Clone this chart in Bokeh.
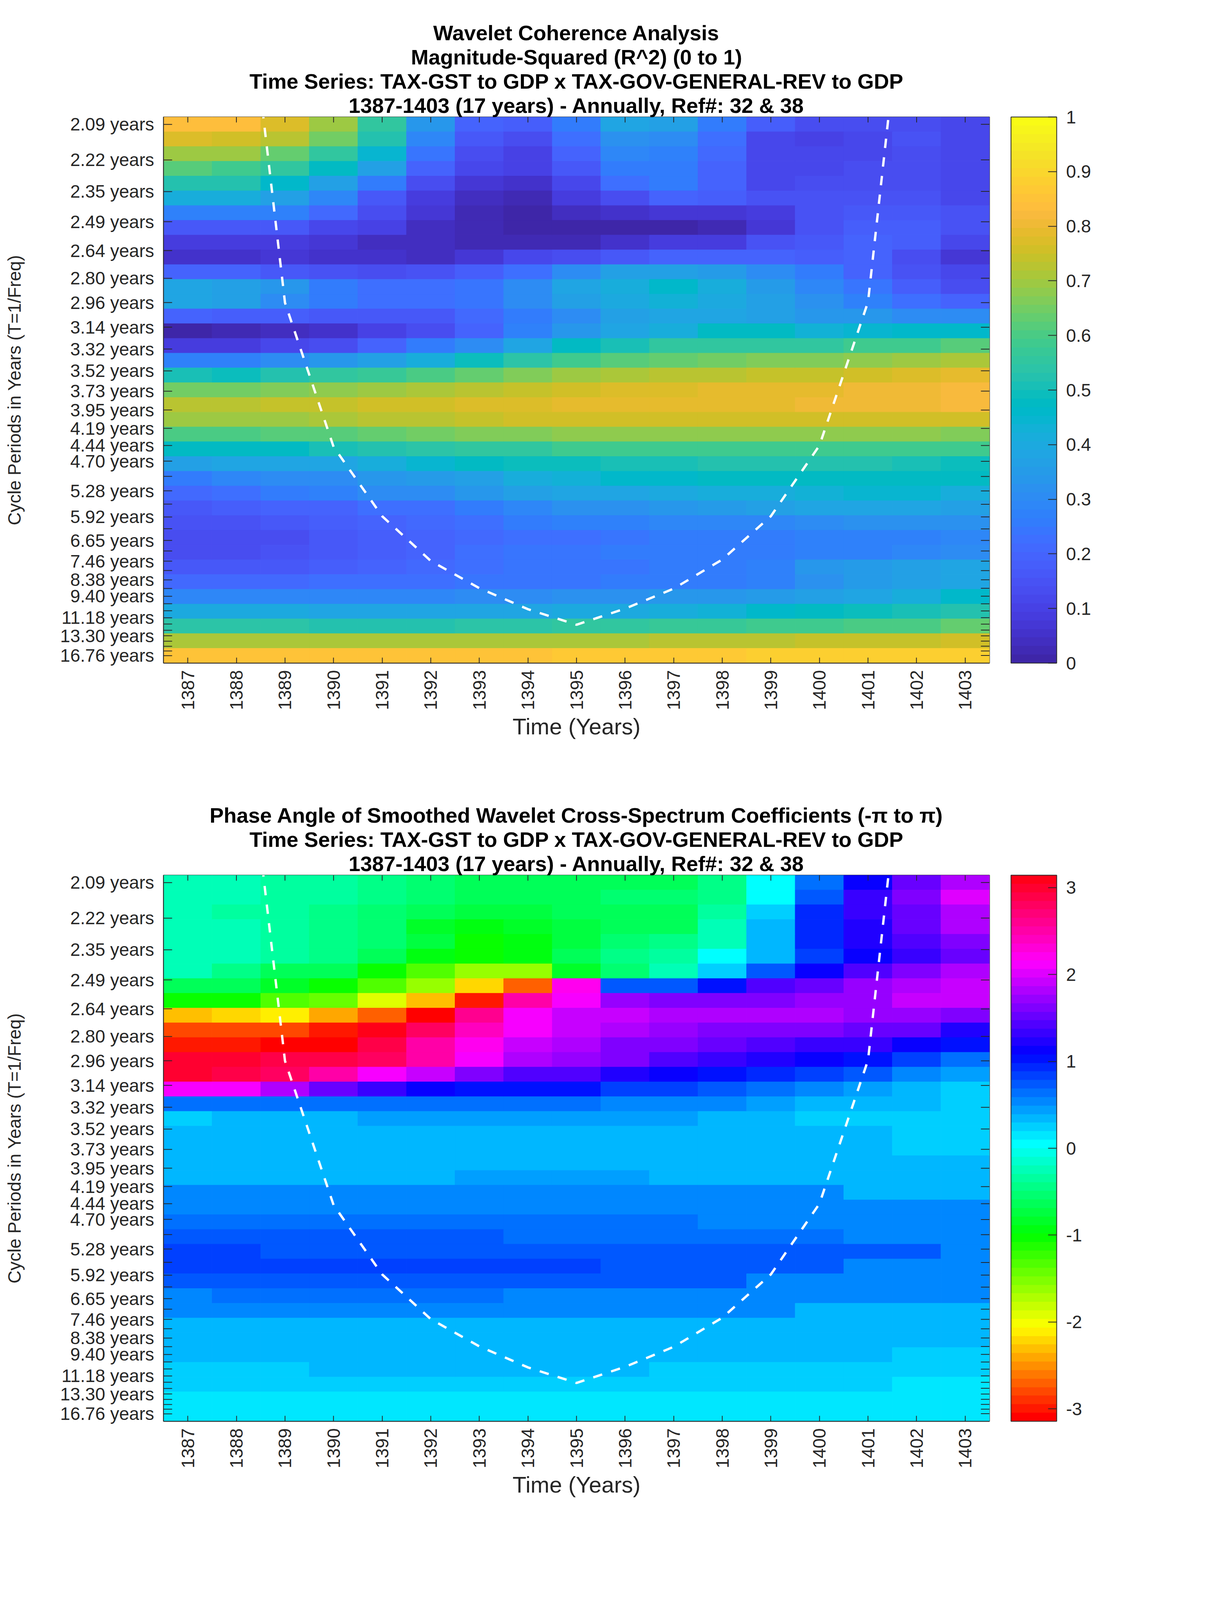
import colorsys
import math
from bokeh.embed import file_html
from bokeh.layouts import column
from bokeh.models import ColorBar, ColumnDataSource, FixedTicker, LinearColorMapper, NumeralTickFormatter, Range1d, Title
from bokeh.plotting import figure
from bokeh.resources import INLINE

YEARS = list(range(1387, 1404))
LABELLED_PERIODS = [2.09, 2.22, 2.35, 2.49, 2.64, 2.80, 2.96, 3.14, 3.32, 3.52, 3.73, 3.95, 4.19, 4.44, 4.70, 5.28,
                    5.92, 6.65, 7.46, 8.38, 9.40, 11.18, 13.30, 16.76]
UNLABELLED_PERIODS = [4.98, 5.59, 6.27, 7.04, 7.90, 8.88, 9.96, 10.55, 11.85, 12.55, 14.09, 14.93, 15.82]

COI_YEARS = list(range(1388, 1403))
COI_PERIODS = [1.50, 2.96, 4.46, 5.90, 7.45, 8.87, 10.40, 11.92, 10.35, 8.90, 7.39, 5.90, 4.44, 2.955, 1.46]

COHERENCE = [
    [.84, .83, .78, .70, .56, .33, .19, .18, .25, .38, .36, .26, .18, .13, .13, .13, .12],
    [.78, .76, .72, .65, .52, .29, .17, .13, .22, .32, .30, .22, .12, .105, .12, .145, .115],
    [.69, .69, .63, .56, .44, .24, .13, .105, .20, .29, .27, .21, .12, .11, .12, .14, .115],
    [.62, .59, .55, .47, .37, .20, .11, .095, .17, .26, .26, .20, .12, .12, .14, .14, .11],
    [.52, .52, .465, .36, .26, .13, .07, .06, .11, .22, .25, .20, .12, .125, .14, .14, .115],
    [.42, .42, .37, .29, .17, .08, .045, .03, .08, .14, .19, .185, .15, .145, .15, .15, .11],
    [.28, .28, .27, .21, .14, .07, .03, .01, .035, .06, .075, .075, .08, .145, .165, .17, .155],
    [.17, .17, .16, .12, .10, .045, .02, .01, .01, .01, .015, .025, .075, .15, .185, .18, .15],
    [.08, .08, .08, .07, .045, .035, .03, .03, .03, .05, .085, .09, .15, .17, .19, .175, .115],
    [.055, .055, .07, .055, .055, .04, .07, .11, .13, .165, .19, .20, .20, .175, .19, .125, .07],
    [.19, .19, .17, .15, .14, .15, .18, .23, .31, .36, .37, .35, .30, .25, .20, .15, .115],
    [.38, .37, .33, .26, .23, .23, .24, .31, .38, .42, .46, .41, .35, .29, .24, .18, .125],
    [.39, .36, .31, .26, .23, .23, .24, .30, .37, .40, .43, .40, .36, .32, .27, .22, .20],
    [.19, .185, .18, .17, .17, .165, .21, .25, .31, .36, .38, .385, .37, .34, .33, .31, .31],
    [.01, .025, .035, .055, .10, .14, .20, .27, .33, .385, .42, .47, .47, .43, .45, .46, .46],
    [.08, .08, .11, .13, .20, .26, .31, .39, .47, .50, .55, .56, .56, .56, .58, .59, .61],
    [.28, .28, .30, .33, .37, .41, .49, .54, .59, .62, .625, .645, .66, .665, .675, .69, .71],
    [.51, .49, .52, .55, .57, .60, .63, .66, .69, .71, .725, .725, .74, .74, .75, .77, .785],
    [.655, .655, .66, .675, .69, .705, .725, .74, .75, .77, .77, .785, .785, .785, .80, .80, .82],
    [.73, .73, .735, .745, .75, .765, .775, .775, .79, .79, .79, .79, .79, .80, .80, .80, .82],
    [.695, .695, .70, .705, .72, .725, .745, .75, .755, .755, .755, .755, .755, .755, .755, .755, .755],
    [.595, .605, .61, .62, .64, .65, .665, .67, .68, .68, .68, .68, .68, .68, .68, .68, .67],
    [.47, .475, .48, .50, .52, .54, .55, .56, .585, .585, .585, .585, .585, .585, .585, .585, .58],
    [.37, .375, .38, .39, .41, .44, .47, .49, .495, .505, .51, .525, .525, .525, .525, .515, .49],
    [.26, .29, .30, .31, .33, .35, .36, .41, .43, .465, .465, .47, .47, .475, .48, .48, .47],
    [.205, .23, .26, .28, .30, .31, .33, .37, .375, .39, .40, .41, .41, .43, .44, .44, .42],
    [.17, .18, .19, .20, .22, .23, .25, .29, .315, .325, .34, .35, .36, .38, .385, .385, .37],
    [.145, .145, .16, .175, .195, .215, .23, .25, .27, .27, .285, .285, .29, .31, .32, .32, .325],
    [.13, .14, .125, .16, .18, .19, .21, .22, .23, .24, .25, .255, .25, .27, .28, .28, .295],
    [.14, .14, .145, .16, .18, .20, .22, .235, .235, .25, .255, .26, .265, .27, .275, .295, .30],
    [.17, .17, .17, .175, .195, .21, .225, .24, .24, .245, .255, .26, .27, .33, .345, .365, .375],
    [.215, .215, .215, .22, .225, .23, .24, .24, .245, .25, .26, .265, .275, .315, .345, .37, .38],
    [.285, .285, .285, .285, .29, .295, .30, .305, .315, .32, .33, .34, .35, .365, .39, .41, .455],
    [.395, .395, .395, .39, .39, .39, .39, .39, .40, .405, .41, .43, .46, .475, .49, .515, .52],
    [.545, .545, .545, .53, .52, .52, .535, .54, .55, .56, .57, .57, .58, .585, .60, .60, .63],
    [.705, .705, .705, .705, .705, .705, .705, .705, .71, .71, .725, .725, .725, .745, .745, .745, .76],
    [.845, .845, .845, .845, .845, .845, .845, .845, .86, .86, .86, .86, .885, .885, .885, .885, .885],
]

PHASE = [
    [-.2, -.27, -.33, -.36, -.46, -.55, -.62, -.66, -.66, -.6, -.6, -.45, 0, .64, 1.12, 1.5, 1.85],
    [-.2, -.27, -.33, -.36, -.46, -.55, -.62, -.66, -.62, -.58, -.58, -.44, .06, .74, 1.33, 1.64, 1.98],
    [-.2, -.3, -.37, -.4, -.5, -.62, -.72, -.74, -.68, -.62, -.62, -.33, .2, .92, 1.3, 1.57, 1.85],
    [-.27, -.28, -.36, -.4, -.53, -.8, -.9, -.8, -.72, -.66, -.66, -.22, .3, .92, 1.27, 1.5, 1.77],
    [-.27, -.28, -.36, -.4, -.53, -.75, -1.03, -.9, -.75, -.55, -.48, -.27, .3, .92, 1.24, 1.38, 1.64],
    [-.27, -.28, -.37, -.42, -.6, -.9, -1.05, -.92, -.6, -.42, -.33, 0, .39, .85, 1.15, 1.35, 1.54],
    [-.27, -.4, -.6, -.65, -1.03, -1.3, -1.65, -1.6, -.8, -.5, -.22, .2, .78, 1.17, 1.47, 1.64, 1.77],
    [-.62, -.65, -.85, -1.03, -1.3, -1.65, -2.16, -2.73, 2.2, .7, .78, 1.05, 1.38, 1.55, 1.72, 1.85, 1.9],
    [-1.05, -1.05, -1.3, -1.47, -1.88, -2.26, -3.0, 2.55, 2.15, 1.75, 1.64, 1.62, 1.63, 1.75, 1.75, 1.9, 1.9],
    [-2.26, -2.16, -2.14, -2.36, -2.66, -3.13, 2.65, 2.1, 1.95, 1.88, 1.78, 1.78, 1.78, 1.78, 1.76, 1.76, 1.63],
    [-2.8, -2.8, -2.8, -2.96, 3.08, 2.8, 2.45, 2.1, 1.9, 1.78, 1.75, 1.65, 1.62, 1.6, 1.52, 1.52, 1.27],
    [-3.02, -3.02, -3.13, -3.13, 2.92, 2.55, 2.2, 1.93, 1.85, 1.64, 1.64, 1.53, 1.44, 1.3, 1.3, 1.1, 1.05],
    [3.03, 3.03, 2.93, 2.9, 2.75, 2.5, 2.1, 1.85, 1.7, 1.6, 1.47, 1.35, 1.27, 1.12, 1.03, .85, .64],
    [2.95, 2.85, 2.75, 2.55, 2.1, 1.9, 1.66, 1.4, 1.38, 1.27, 1.12, 1.04, .97, .85, .78, .58, .48],
    [2.1, 2.1, 1.85, 1.55, 1.33, 1.15, 1.05, 1.05, 1.03, .88, .8, .78, .68, .57, .48, .37, .27],
    [.6, .66, .66, .66, .66, .66, .66, .66, .66, .58, .58, .58, .48, .37, .37, .3, .2],
    [.29, .38, .38, .38, .46, .46, .46, .46, .46, .46, .46, .38, .38, .27, .27, .2, .2],
    [.3, .3, .3, .38, .38, .38, .38, .38, .38, .38, .38, .38, .3, .3, .3, .2, .2],
    [.3, .3, .3, .3, .38, .38, .38, .38, .38, .38, .38, .3, .3, .3, .3, .2, .2],
    [.3, .3, .3, .38, .38, .38, .38, .38, .38, .38, .38, .38, .38, .3, .3, .3, .3],
    [.38, .38, .38, .38, .38, .38, .46, .46, .46, .46, .38, .38, .38, .38, .38, .3, .3],
    [.5, .5, .5, .5, .5, .5, .5, .5, .5, .5, .5, .5, .5, .5, .38, .38, .38],
    [.58, .58, .58, .58, .58, .58, .58, .58, .58, .58, .58, .58, .52, .52, .52, .52, .52],
    [.68, .68, .68, .68, .68, .68, .68, .68, .68, .68, .68, .58, .58, .58, .58, .58, .58],
    [.75, .75, .75, .75, .75, .75, .75, .68, .68, .68, .68, .68, .68, .68, .58, .58, .58],
    [.88, .88, .78, .78, .78, .78, .78, .78, .78, .78, .7, .7, .7, .7, .7, .7, .58],
    [.88, .8, .8, .8, .8, .8, .8, .8, .8, .7, .7, .7, .7, .7, .58, .58, .58],
    [.78, .78, .78, .78, .78, .7, .7, .7, .7, .7, .7, .7, .58, .58, .58, .58, .5],
    [.58, .68, .68, .68, .68, .68, .68, .58, .58, .58, .58, .58, .58, .5, .5, .5, .5],
    [.5, .5, .5, .5, .58, .58, .5, .5, .5, .5, .5, .5, .5, .39, .39, .39, .39],
    [.39, .39, .39, .39, .39, .39, .39, .39, .39, .39, .39, .39, .39, .3, .3, .3, .3],
    [.3, .39, .39, .39, .39, .39, .39, .39, .39, .39, .39, .39, .3, .3, .3, .3, .3],
    [.3, .3, .3, .3, .3, .3, .3, .3, .3, .3, .3, .3, .3, .3, .3, .2, .2],
    [.2, .2, .2, .3, .3, .3, .3, .3, .3, .3, .2, .2, .2, .2, .2, .2, .2],
    [.2, .2, .2, .2, .2, .2, .2, .2, .2, .2, .2, .2, .2, .2, .2, .1, .1],
    [.1, .1, .1, .1, .1, .1, .1, .1, .1, .1, .1, .1, .1, .1, .1, .1, .1],
    [.1, .1, .1, .1, .1, .1, .1, .1, .1, .1, .1, .1, .1, .1, .1, .1, .1],
]

TITLE_1 = ["Wavelet Coherence Analysis", "Magnitude-Squared (R^2) (0 to 1)",
           "Time Series: TAX-GST to GDP x TAX-GOV-GENERAL-REV to GDP",
           "1387-1403 (17 years) - Annually, Ref#: 32 & 38"]
TITLE_2 = ["Phase Angle of Smoothed Wavelet Cross-Spectrum Coefficients (-\u03c0 to \u03c0)",
           "Time Series: TAX-GST to GDP x TAX-GOV-GENERAL-REV to GDP",
           "1387-1403 (17 years) - Annually, Ref#: 32 & 38"]
COHERENCE_TICKS = [0, .1, .2, .3, .4, .5, .6, .7, .8, .9, 1]
PHASE_TICKS = [-3, -2, -1, 0, 1, 2, 3]

PARULA_RGB = [
    (.2422, .1504, .6603), (.2504, .1650, .7076), (.2578, .1818, .7511), (.2647, .1978, .7952),
    (.2706, .2147, .8364), (.2751, .2342, .8710), (.2783, .2559, .8991), (.2803, .2782, .9221),
    (.2813, .3006, .9414), (.2810, .3228, .9579), (.2795, .3447, .9717), (.2760, .3667, .9829),
    (.2699, .3892, .9906), (.2602, .4123, .9952), (.2440, .4358, .9988), (.2206, .4603, .9973),
    (.1963, .4847, .9892), (.1834, .5074, .9798), (.1786, .5289, .9682), (.1764, .5499, .9520),
    (.1687, .5703, .9359), (.1540, .5902, .9218), (.1460, .6091, .9079), (.1380, .6276, .8973),
    (.1248, .6459, .8883), (.1113, .6635, .8763), (.0952, .6798, .8598), (.0689, .6948, .8394),
    (.0297, .7082, .8163), (.0036, .7203, .7917), (.0067, .7312, .7660), (.0433, .7411, .7394),
    (.0964, .7500, .7120), (.1408, .7584, .6842), (.1717, .7670, .6554), (.1938, .7758, .6251),
    (.2161, .7843, .5923), (.2470, .7918, .5567), (.2906, .7973, .5188), (.3406, .8008, .4789),
    (.3909, .8029, .4354), (.4456, .8024, .3909), (.5044, .7993, .3480), (.5616, .7942, .3045),
    (.6174, .7876, .2612), (.6720, .7793, .2227), (.7242, .7698, .1910), (.7738, .7598, .1646),
    (.8203, .7498, .1535), (.8634, .7406, .1596), (.9035, .7330, .1774), (.9393, .7288, .2100),
    (.9728, .7298, .2394), (.9956, .7434, .2371), (.9970, .7659, .2199), (.9952, .7893, .2028),
    (.9892, .8136, .1885), (.9786, .8386, .1766), (.9676, .8639, .1643), (.9610, .8890, .1537),
    (.9597, .9135, .1423), (.9628, .9373, .1265), (.9691, .9606, .1064), (.9769, .9839, .0805),
]


def to_hex(rgb):
    return "#%02x%02x%02x" % tuple(round(c * 255) for c in rgb)


PARULA = [to_hex(c) for c in PARULA_RGB]
HSV = [to_hex(colorsys.hsv_to_rgb(i / 64, 1, 1)) for i in range(64)]

INK = "#262626"
FONT = "Liberation Sans"
F_BOTTOM, F_TOP = 0.05367, 0.48424
FRAME_W, FRAME_H = 2114, 1398
X_TICK_PX, Y_TICK_PX = 14, 22
X0, X1 = YEARS[0] - .5, YEARS[-1] + .5


def panel(rows, palette, low, high, cb_ticks, title_lines, top_border, bottom_border):
    n_rows = len(rows)
    step = (F_TOP - F_BOTTOM) / n_rows
    data = dict(left=[], right=[], top=[], bottom=[], v=[])
    for r, row in enumerate(rows):
        for c, val in enumerate(row):
            data["left"].append(YEARS[c] - .5)
            data["right"].append(YEARS[c] + .5)
            data["top"].append(F_TOP - r * step)
            data["bottom"].append(F_TOP - (r + 1) * step)
            data["v"].append(val)

    p = figure(frame_width=FRAME_W, frame_height=FRAME_H, output_backend="svg", toolbar_location=None,
               x_range=Range1d(X0, X1), y_range=Range1d(F_BOTTOM, F_TOP),
               min_border_left=418, min_border_right=10, min_border_top=top_border, min_border_bottom=bottom_border,
               x_axis_label="Time (Years)", y_axis_label="Cycle Periods in Years (T=1/Freq)")
    p.grid.visible = False
    p.outline_line_color = INK
    p.outline_line_width = 2
    mapper = LinearColorMapper(palette=palette, low=low, high=high)
    p.quad(left="left", right="right", top="top", bottom="bottom", source=ColumnDataSource(data),
           fill_color=dict(field="v", transform=mapper), line_color=dict(field="v", transform=mapper), line_width=1)
    p.line(COI_YEARS, [1 / t for t in COI_PERIODS], line_color="white", line_width=6, line_dash="24 24")

    # mirrored inward ticks on the top and right edges
    major_f = [1 / t for t in LABELLED_PERIODS]
    minor_f = [1 / t for t in UNLABELLED_PERIODS]
    dy = X_TICK_PX * (F_TOP - F_BOTTOM) / FRAME_H
    dx = Y_TICK_PX * (X1 - X0) / FRAME_W
    p.segment(YEARS, [F_TOP] * len(YEARS), YEARS, [F_TOP - dy] * len(YEARS), line_color=INK, line_width=2)
    all_f = major_f + minor_f
    p.segment([X1] * len(all_f), all_f, [X1 - dx] * len(all_f), all_f, line_color=INK, line_width=2)

    xa, ya = p.xaxis[0], p.yaxis[0]
    xa.ticker = FixedTicker(ticks=YEARS)
    xa.major_label_orientation = math.pi / 2
    xa.major_label_standoff = 18
    xa.axis_label_standoff = 6
    xa.major_tick_in = X_TICK_PX
    ya.ticker = FixedTicker(ticks=major_f, minor_ticks=minor_f)
    ya.major_label_overrides = {1 / t: "%.2f years" % t for t in LABELLED_PERIODS}
    ya.major_label_standoff = 24
    ya.axis_label_standoff = 88
    ya.major_tick_in = Y_TICK_PX
    ya.minor_tick_in = Y_TICK_PX
    ya.minor_tick_out = 0
    ya.minor_tick_line_color = INK
    ya.minor_tick_line_width = 2
    xa.minor_tick_line_color = None
    for ax in (xa, ya):
        ax.axis_line_color = INK
        ax.axis_line_width = 2
        ax.major_tick_line_color = INK
        ax.major_tick_line_width = 2
        ax.major_tick_out = 0
        ax.major_label_text_font = FONT
        ax.major_label_text_font_size = "46px"
        ax.major_label_text_color = INK
        ax.axis_label_text_font = FONT
        ax.axis_label_text_font_style = "normal"
        ax.axis_label_text_color = INK
    xa.axis_label_text_font_size = "58px"
    ya.axis_label_text_font_size = "46px"

    for line in reversed(title_lines):
        p.add_layout(Title(text=line, align="center", text_font=FONT, text_font_size="54px",
                           text_font_style="bold", text_color="black", standoff=0), "above")

    cb = ColorBar(color_mapper=mapper, width=117, height=FRAME_H, location=(55, 0), margin=0, padding=0,
                  ticker=FixedTicker(ticks=cb_ticks), formatter=NumeralTickFormatter(format="0.[0]"),
                  major_tick_in=22, major_tick_line_color=INK, major_tick_line_width=2, minor_tick_line_color=None,
                  bar_line_color=INK, bar_line_width=2, border_line_color=None, label_standoff=24,
                  major_label_text_font=FONT, major_label_text_font_size="46px", major_label_text_color=INK)
    p.add_layout(cb, "right")
    return p


p1 = panel(COHERENCE, PARULA, 0, 1, COHERENCE_TICKS, TITLE_1, 299, 255)
p2 = panel(PHASE, HSV, -math.pi, math.pi, PHASE_TICKS, TITLE_2, 288, 430)

page = column(p1, p2)
open("out.html", "w").write(file_html(page, INLINE))
